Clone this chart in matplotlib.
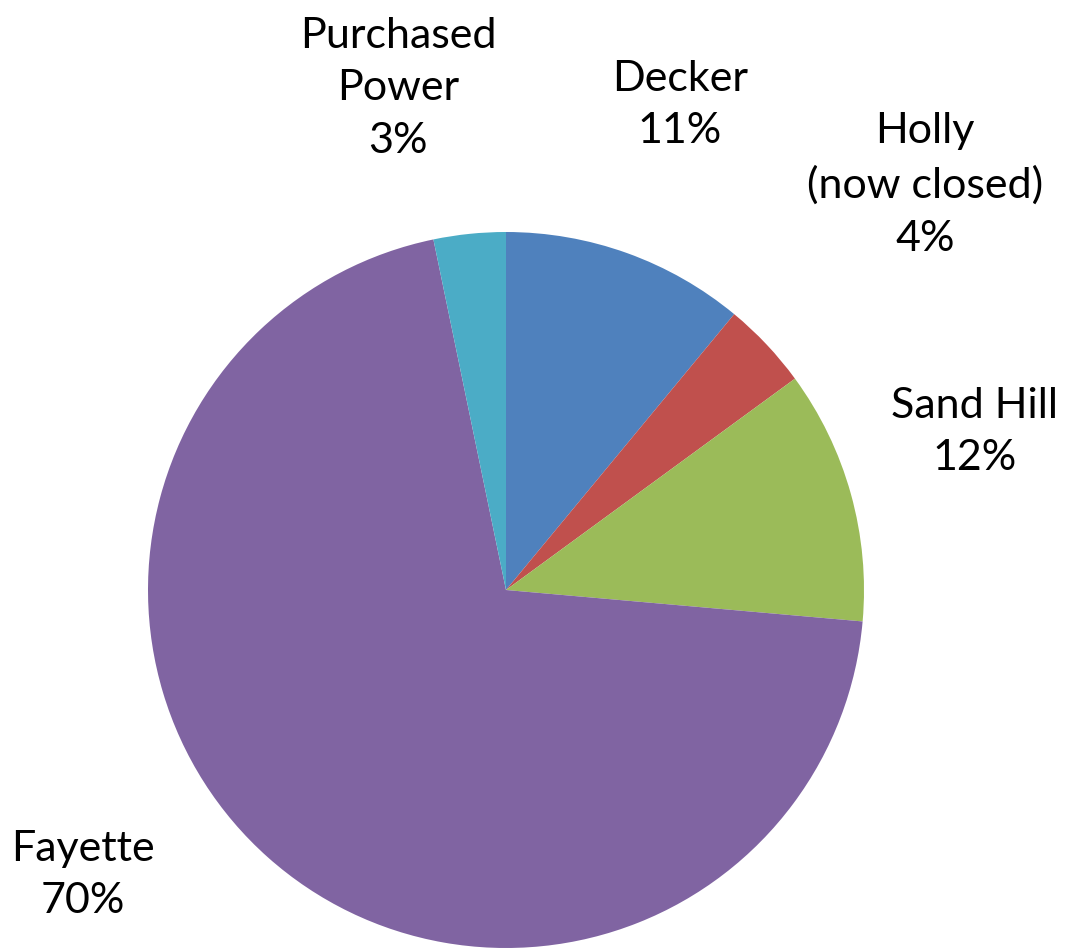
import matplotlib
matplotlib.use("Agg")
import matplotlib.pyplot as plt

# slices, clockwise from 12 o'clock
names = ["Decker", "Holly\n(now closed)", "Sand Hill", "Fayette", "Purchased\nPower"]
shares = [11.0, 3.95, 11.45, 70.35, 3.25]
pct_labels = ["11%", "4%", "12%", "70%", "3%"]
colors = ["#4F81BD", "#C0504D", "#9BBB59", "#8064A2", "#4BACC6"]

# label centres in axes units (pie radius = 1)
label_pos = [(0.486, 1.355), (1.170, 1.131), (1.310, 0.441), (-1.182, -0.796), (-0.302, 1.402)]

W, H = 1065, 949
cx, cy, r = 506, 590, 358

fig = plt.figure(figsize=(W / 100, H / 100), dpi=100)
ax = fig.add_axes([(cx - r) / W, (H - cy - r) / H, 2 * r / W, 2 * r / H])
ax.pie(shares, colors=colors, startangle=90, counterclock=False, radius=1,
       wedgeprops=dict(linewidth=0))
ax.set_xlim(-1, 1)
ax.set_ylim(-1, 1)
ax.set_aspect("equal")
ax.axis("off")

for name, pct, (x, y) in zip(names, pct_labels, label_pos):
    ax.text(x, y, name + "\n" + pct, ha="center", va="center", fontsize=31,
            family="Lato", linespacing=1.47, clip_on=False, color="black")

fig.savefig("out.png", dpi=100)
